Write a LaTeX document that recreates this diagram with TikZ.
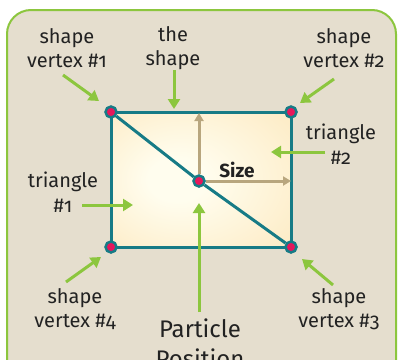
\documentclass[tikz,border=0pt]{standalone}
\usepackage{fontspec}
\setmainfont{Fira Sans}[Numbers=OldStyle]
\usepackage{tikz}
\usetikzlibrary{arrows.meta,positioning,calc}

\definecolor{panel}{HTML}{E5DECE}
\definecolor{leaf}{HTML}{8CC63E}
\definecolor{teal}{HTML}{177B86}
\definecolor{berry}{HTML}{E6175C}
\definecolor{khaki}{HTML}{B8A67E}
\definecolor{ink}{HTML}{222222}
\definecolor{creamin}{HTML}{FFFDEE}
\definecolor{creamout}{HTML}{FCE3B2}
\pgfdeclareradialshading{creamglow}{\pgfpoint{-8bp}{0bp}}%
  {color(0bp)=(creamin); color(8bp)=(creamin); color(50bp)=(creamout)}

\tikzset{
  lbl/.style={align=center, inner sep=0pt, text=ink,
              font=\fontsize{20}{24.5}\selectfont},
  pointer/.style={leaf, line width=3pt,
                  -{Triangle[width=12pt,length=10pt]}},
  sizearrow/.style={khaki, line width=3pt,
                    -{Triangle[width=9pt,length=8pt]}},
  vertex/.style={circle, fill=berry, draw=teal, line width=2.5pt,
                 minimum size=11pt, inner sep=0pt}
}

\begin{document}
\begin{tikzpicture}[x=1pt, y=-1pt]
  \useasboundingbox (0,0) rectangle (399,359);
  \fill[white] (0,0) rectangle (399,359);
  \draw[leaf, line width=2pt, fill=panel, rounded corners=24pt]
    (7,10) rectangle (396,390);

  % the shape
  \shade[shading=creamglow] (111,112) rectangle (291,247);
  \draw[teal, line width=3pt] (111,112) rectangle (291,247);

  \node[vertex] (V1) at (111,112) {};
  \node[vertex] (V2) at (291,112) {};
  \node[vertex] (V3) at (291,247) {};
  \node[vertex] (V4) at (111,247) {};
  \node[vertex] (P) at (199,181) {};
  \draw[teal, line width=3pt] (V1) -- (P) -- (V3);

  % size arrows
  \coordinate (sizeup) at (199,113);
  \coordinate (sizeright) at (291,181);
  \draw[sizearrow] (P) -- (sizeup);
  \draw[sizearrow] (P) -- (sizeright);
  \node[lbl, font=\fontsize{19}{22}\selectfont\bfseries, anchor=base]
    (size) at (237,177) {Size};

  % labels
  \node[lbl] (lv1) at (67,48) {shape\\vertex \#1};
  \node[lbl] (lshape) at (173,48) {the\\shape};
  \node[lbl] (lv2) at (344,48) {shape\\vertex \#2};
  \node[lbl] (lt2) at (341,144) {triangle\\\#2};
  \node[lbl] (lt1) at (63,192) {triangle\\\#1};
  \node[lbl] (lv4) at (75,309) {shape\\vertex \#4};
  \node[lbl] (lv3) at (339,309) {shape\\vertex \#3};
  \node[lbl, font=\fontsize{24}{30}\selectfont, anchor=north]
    (lpos) at (200,319) {Particle\\Position};

  % pointers
  \coordinate (t1) at (63,75);   \coordinate (h1) at (99,101);
  \coordinate (ts) at (174,70);  \coordinate (hs) at (174,109);
  \coordinate (t2) at (334,79);  \coordinate (h2) at (300,103);
  \coordinate (tt2) at (325,152); \coordinate (ht2) at (271,152);
  \coordinate (tt1) at (82,205); \coordinate (ht1) at (133,205);
  \coordinate (t4) at (66,282);  \coordinate (h4) at (101,257);
  \coordinate (t3) at (333,285); \coordinate (h3) at (302,259);
  \coordinate (tp) at (199,312); \coordinate (hp) at (199,203);
  \draw[pointer] (t1) -- (h1);
  \draw[pointer] (ts) -- (hs);
  \draw[pointer] (t2) -- (h2);
  \draw[pointer] (tt2) -- (ht2);
  \draw[pointer] (tt1) -- (ht1);
  \draw[pointer] (t4) -- (h4);
  \draw[pointer] (t3) -- (h3);
  \draw[pointer] (tp) -- (hp);
\end{tikzpicture}
\end{document}
